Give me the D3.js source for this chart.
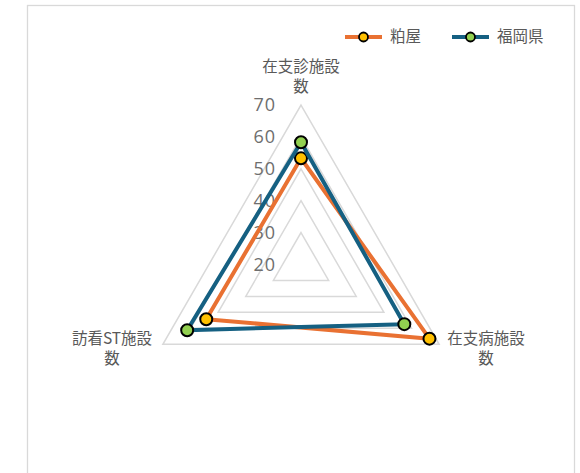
<!DOCTYPE html>
<html>
<head>
<meta charset="utf-8">
<script src="https://cdn.jsdelivr.net/npm/d3@7"></script>
<style>
  body { margin: 0; background: #fff; }
  svg { display: block; font-family: "Noto Sans CJK JP", "Noto Sans", sans-serif; }
</style>
</head>
<body>
<svg id="chart" width="580" height="473"></svg>
<script>
// axes of the radar (clockwise from top)
var categories = [["在支診施設", "数"], ["在支病施設", "数"], ["訪看ST施設", "数"]];
var seriesNames = ["粕屋", "福岡県"];
var kasuya = [53.3, 66.5, 54.3];
var fukuoka = [58.3, 57.4, 61.2];
var tickValues = [20, 30, 40, 50, 60, 70];

var lineColors = ["#E97132", "#156082"];
var markerColors = ["#FFC000", "#92D050"];

var svg = d3.select("#chart");
var cx = 301, cy = 264.5, R = 159.5;

// chart area border
svg.append("rect")
  .attr("x", 27.5).attr("y", 5.5)
  .attr("width", 547).attr("height", 480)
  .attr("fill", "#fff")
  .attr("stroke", "#d9d9d9").attr("stroke-width", 1.3);

var r = d3.scaleLinear().domain([20, 70]).range([0, R]);
var angle = d3.scaleLinear().domain([0, categories.length]).range([-Math.PI / 2, 3 * Math.PI / 2]);

function pt(i, v) {
  var a = angle(i);
  return [cx + r(v) * Math.cos(a), cy + r(v) * Math.sin(a)];
}

var g = svg.append("g");

// grid triangles
g.selectAll("path.grid")
  .data(tickValues.slice(1))
  .enter().append("path")
  .attr("class", "grid")
  .attr("d", function(t) {
    return d3.line()(categories.map(function(c, i) { return pt(i, t); })) + "Z";
  })
  .attr("fill", "none")
  .attr("stroke", "#d9d9d9")
  .attr("stroke-width", 1.5);

// tick labels
g.selectAll("text.tick")
  .data(tickValues)
  .enter().append("text")
  .attr("class", "tick")
  .attr("x", cx - 25)
  .attr("y", function(t) { return cy - r(t); })
  .attr("dy", "0.36em")
  .attr("text-anchor", "end")
  .attr("font-family", "'Open Sans', sans-serif")
  .attr("font-size", 18)
  .attr("letter-spacing", 1)
  .attr("fill", "#6e6e6e")
  .text(function(t) { return t; });

// category labels
var labelPos = [[301, 67], [486, 339], [112, 339]];
categories.forEach(function(c, i) {
  var t = g.append("text")
    .attr("text-anchor", "middle")
    .attr("font-size", 15.5)
    .attr("fill", "#595959");
  c.forEach(function(line, j) {
    t.append("tspan")
      .attr("x", labelPos[i][0])
      .attr("y", labelPos[i][1] + j * 20)
      .attr("dy", "0.35em")
      .text(line);
  });
});

// series
[kasuya, fukuoka].forEach(function(vals, s) {
  var pts = vals.map(function(v, i) { return pt(i, v); });
  g.append("path")
    .attr("d", d3.line()(pts) + "Z")
    .attr("fill", "none")
    .attr("stroke", lineColors[s])
    .attr("stroke-width", 4)
    .attr("stroke-linejoin", "round");
  g.selectAll(null)
    .data(pts)
    .enter().append("circle")
    .attr("cx", function(d) { return d[0]; })
    .attr("cy", function(d) { return d[1]; })
    .attr("r", 6)
    .attr("fill", markerColors[s])
    .attr("stroke", "#000")
    .attr("stroke-width", 2);
});

// legend
var legendX = [345, 452];
var legend = svg.append("g")
  .selectAll("g")
  .data(seriesNames)
  .enter().append("g")
  .attr("transform", function(d, i) { return "translate(" + legendX[i] + ",37)"; });

legend.append("line")
  .attr("x1", 0).attr("x2", 37)
  .attr("stroke", function(d, i) { return lineColors[i]; })
  .attr("stroke-width", 4);
legend.append("circle")
  .attr("cx", 18.5).attr("r", 4.5)
  .attr("fill", function(d, i) { return markerColors[i]; })
  .attr("stroke", "#000").attr("stroke-width", 1.8);
legend.append("text")
  .attr("x", 45)
  .attr("dy", "0.35em")
  .attr("font-size", 15.5)
  .attr("fill", "#595959")
  .text(function(d) { return d; });
</script>
</body>
</html>
